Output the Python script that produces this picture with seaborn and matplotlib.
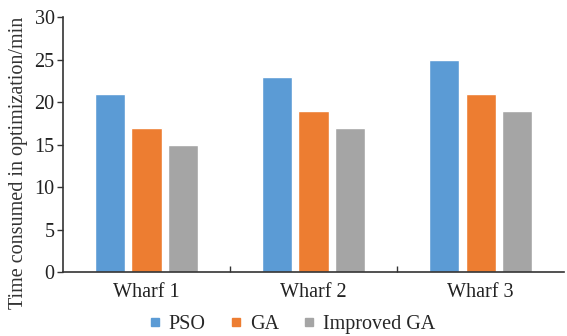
import matplotlib
matplotlib.use("Agg")
import matplotlib.pyplot as plt
import seaborn as sns
import pandas as pd
from matplotlib.lines import Line2D

categories = ["Wharf 1", "Wharf 2", "Wharf 3"]
methods = ["PSO", "GA", "Improved GA"]
pso = [21, 23, 25]
ga = [17, 19, 21]
improved_ga = [15, 17, 19]
colors = ["#5B9BD5", "#ED7D31", "#A5A5A5"]

rows = []
for m, vals in zip(methods, [pso, ga, improved_ga]):
    for c, v in zip(categories, vals):
        rows.append({"Wharf": c, "Method": m, "Time": v})
df = pd.DataFrame(rows)

sns.set_style("white")
plt.rcParams['font.family'] = ['Liberation Serif', 'DejaVu Serif']

fig = plt.figure(figsize=(5.67, 3.36), dpi=100)
ax = fig.add_axes([0.111, 0.190, 0.884, 0.759])

sns.barplot(data=df, x="Wharf", y="Time", hue="Method", palette=colors,
            width=0.66, gap=0.18, ax=ax, legend=False, saturation=1)

ax.set_ylim(0, 30)
ax.set_yticks([0, 5, 10, 15, 20, 25, 30])
ax.set_xlim(-0.5, 2.5)
ax.set_xlabel("")
ax.set_ylabel("Time consumed in optimization/min", fontsize=14.5, color="#333333")
ax.yaxis.set_label_coords(-0.070, 0.43)
ax.tick_params(axis='y', labelsize=14.5, length=4, direction='out', width=1, colors="#333333", pad=2, left=True)
ax.tick_params(axis='x', which='major', labelsize=14.5, length=0, pad=8, colors="#333333")
ax.set_xticks([0.5, 1.5], minor=True)
ax.tick_params(axis='x', which='minor', direction='in', length=4, width=1, color="#333333", bottom=True)
for lbl in ax.get_yticklabels() + ax.get_xticklabels():
    lbl.set_color("#222222")

for s in ["top", "right"]:
    ax.spines[s].set_visible(False)
for s in ["left", "bottom"]:
    ax.spines[s].set_color("#333333")
    ax.spines[s].set_linewidth(1.2)

handles = [Line2D([0], [0], marker='s', linestyle='', markersize=6,
                  markerfacecolor=c, markeredgecolor=c) for c in colors]
fig.legend(handles, methods, loc='center', bbox_to_anchor=(0.51, 0.035), ncol=3,
           frameon=False, fontsize=14.5, handletextpad=0.1, columnspacing=0.9,
           handlelength=1.2)

fig.savefig("out.png", dpi=100)
